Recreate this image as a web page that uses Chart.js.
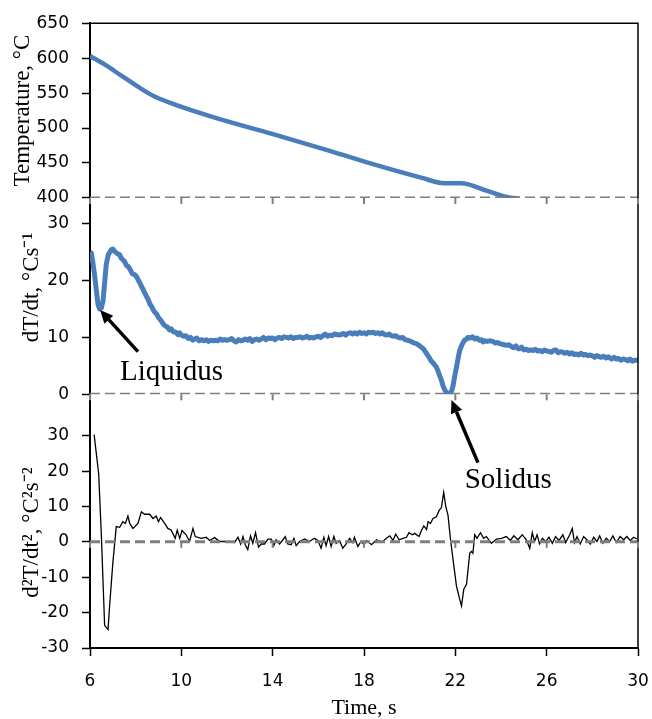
<!DOCTYPE html>
<html>
<head>
<meta charset="utf-8">
<script src="https://cdn.jsdelivr.net/npm/chart.js@4.4.0/dist/chart.umd.min.js"></script>
<style>
  html, body { margin: 0; padding: 0; background: #fff; }
  #wrap { width: 652px; height: 719px; }
</style>
</head>
<body>
<div id="wrap"><canvas id="chart" width="652" height="719"></canvas></div>
<script>
// temperature curve, °C
const tempTime = [6.0, 6.64, 7.37, 8.25, 8.83, 9.85, 11.75, 13.94, 16.13, 18.32, 20.5, 21.52, 22.25, 23.4, 24.3, 24.8];
const tempValue = [603, 591, 575, 556, 545, 532, 512, 492, 471, 449, 429, 421, 421, 410, 401, 399];

// first derivative dT/dt
const rateTime = [
  6.0, 6.06, 6.13, 6.2, 6.27, 6.35, 6.42, 6.5, 6.57, 6.64,
  6.71, 6.8, 6.93, 7.0, 7.08, 7.2, 7.3, 7.37, 7.45, 7.52,
  7.6, 7.66, 7.75, 7.85, 7.96, 8.05, 8.15, 8.25, 8.35, 8.45,
  8.54, 8.62, 8.7, 8.8, 8.9, 9.0, 9.12, 9.22, 9.3, 9.4,
  9.48, 9.56, 9.65, 9.75, 9.85, 9.92, 10.0, 10.1, 10.2, 10.3,
  10.4, 10.5, 10.58, 10.68, 10.78, 10.9, 11.0, 11.1, 11.2, 11.3,
  11.4, 11.5, 11.6, 11.7, 11.8, 11.9, 12.0, 12.1, 12.2, 12.3,
  12.4, 12.5, 12.6, 12.7, 12.8, 12.9, 13.0, 13.1, 13.2, 13.3,
  13.4, 13.5, 13.6, 13.7, 13.8, 13.9, 14.0, 14.1, 14.2, 14.3,
  14.4, 14.5, 14.6, 14.7, 14.8, 14.9, 15.0, 15.1, 15.2, 15.3,
  15.4, 15.5, 15.6, 15.7, 15.8, 15.9, 16.0, 16.1, 16.2, 16.3,
  16.4, 16.5, 16.6, 16.7, 16.8, 16.9, 17.0, 17.1, 17.2, 17.3,
  17.4, 17.5, 17.6, 17.7, 17.8, 17.9, 18.0, 18.1, 18.2, 18.3,
  18.4, 18.5, 18.6, 18.7, 18.8, 18.9, 19.0, 19.1, 19.2, 19.3,
  19.4, 19.5, 19.6, 19.7, 19.8, 19.9, 20.0, 20.1, 20.2, 20.3,
  20.4, 20.5, 20.6, 20.7, 20.8, 20.88, 20.95, 21.05, 21.17, 21.25,
  21.32, 21.39, 21.46, 21.54, 21.61, 21.68, 21.76, 21.83, 21.9, 21.97,
  22.05, 22.12, 22.19, 22.3, 22.4, 22.49, 22.55, 22.65, 22.75, 22.85,
  22.95, 23.05, 23.15, 23.21, 23.3, 23.4, 23.5, 23.65, 23.75, 23.85,
  23.95, 24.05, 24.15, 24.24, 24.35, 24.45, 24.55, 24.65, 24.75, 24.82,
  24.9, 25.0, 25.1, 25.2, 25.3, 25.4, 25.5, 25.6, 25.7, 25.8,
  25.9, 26.0, 26.13, 26.2, 26.3, 26.4, 26.5, 26.6, 26.71, 26.8,
  26.9, 27.0, 27.1, 27.2, 27.3, 27.4, 27.5, 27.6, 27.7, 27.8,
  27.9, 28.03, 28.1, 28.2, 28.3, 28.4, 28.5, 28.6, 28.7, 28.76,
  28.85, 28.95, 29.05, 29.15, 29.25, 29.35, 29.45, 29.55, 29.65, 29.75,
  29.85, 29.95, 30.0
];
const rateValue = [
  25.0, 24.8, 23.0, 21.0, 18.5, 15.8, 15.0, 15.2, 16.4, 19.5,
  22.8, 24.5, 25.4, 25.5, 25.1, 24.7, 24.5, 23.9, 23.6, 23.3,
  22.6, 22.5, 22.0, 21.2, 21.0, 20.6, 19.8, 19.0, 18.2, 17.4,
  16.7, 15.9, 15.4, 14.6, 14.2, 13.5, 12.9, 12.3, 12.0, 11.8,
  11.3, 11.5, 11.0, 10.9, 10.5, 10.8, 10.4, 10.2, 10.3, 9.8,
  10.0, 9.5, 9.7, 9.9, 9.4, 9.6, 9.4, 9.6, 9.3, 9.5,
  9.4, 9.5, 9.4, 9.7, 9.5, 9.6, 9.5, 9.6, 9.8, 9.4,
  9.2, 9.6, 9.4, 9.5, 9.7, 9.5, 9.8, 9.3, 9.6, 9.7,
  9.5, 9.7, 10.0, 9.6, 9.9, 9.8, 9.9, 9.6, 9.9, 10.0,
  9.8, 10.1, 10.0, 9.9, 10.1, 9.8, 10.0, 10.0, 10.1, 9.9,
  10.0, 10.2, 9.9, 10.0, 9.9, 10.1, 10.2, 10.0, 10.3, 10.6,
  10.2, 10.4, 10.3, 10.6, 10.5, 10.4, 10.5, 10.7, 10.4, 10.7,
  10.8, 10.6, 10.8, 10.6, 10.9, 10.7, 10.8, 10.6, 10.9, 10.8,
  10.9, 10.7, 10.8, 10.6, 10.8, 10.5, 10.4, 10.6, 10.3, 10.2,
  10.3, 10.0, 9.9, 10.0, 9.6, 9.5, 9.4, 9.2, 9.0, 8.9,
  8.6, 8.3, 8.0, 7.4, 6.8, 6.3, 5.8, 5.4, 4.8, 4.0,
  3.2, 2.5, 1.5, 0.75, 0.3, 0.2, 0.2, 0.5, 1.5, 3.1,
  4.8, 6.3, 7.7, 8.8, 9.5, 9.7, 10.0, 9.9, 10.1, 9.7,
  9.9, 9.5, 9.6, 9.2, 9.4, 9.3, 9.4, 9.3, 9.0, 9.1,
  8.9, 8.8, 8.7, 8.6, 8.7, 8.4, 8.2, 8.5, 8.0, 8.0,
  8.3, 7.8, 7.9, 7.7, 7.8, 7.7, 7.9, 7.6, 7.7, 7.5,
  7.8, 7.6, 7.5, 7.4, 7.7, 7.8, 7.3, 7.5, 7.4, 7.2,
  7.4, 7.1, 7.3, 7.0, 7.1, 6.9, 7.2, 6.9, 7.0, 6.8,
  6.9, 6.7, 6.5, 6.8, 6.6, 6.5, 6.7, 6.4, 6.6, 6.4,
  6.2, 6.5, 6.2, 6.3, 6.0, 6.2, 6.1, 5.9, 6.2, 5.8,
  6.0, 6.0, 5.9
];

// second derivative d2T/dt2
const accelTime = [
  6.18, 6.28, 6.38, 6.5, 6.64, 6.79, 6.86, 7.0, 7.15, 7.3,
  7.44, 7.55, 7.66, 7.74, 7.88, 8.1, 8.25, 8.39, 8.61, 8.76,
  8.9, 9.0, 9.09, 9.27, 9.41, 9.56, 9.73, 9.82, 9.93, 10.03,
  10.21, 10.36, 10.51, 10.61, 10.87, 11.09, 11.24, 11.46, 11.68, 11.9,
  12.33, 12.48, 12.6, 12.7, 12.8, 12.91, 13.03, 13.13, 13.25, 13.38,
  13.5, 13.64, 13.79, 13.94, 14.05, 14.15, 14.3, 14.45, 14.55, 14.66,
  14.81, 14.93, 15.03, 15.18, 15.4, 15.61, 15.83, 15.98, 16.12, 16.24,
  16.34, 16.45, 16.56, 16.68, 16.78, 16.93, 17.07, 17.22, 17.37, 17.51,
  17.58, 17.73, 17.87, 18.0, 18.11, 18.33, 18.55, 18.77, 18.98, 19.13,
  19.27, 19.39, 19.54, 19.71, 19.86, 19.97, 20.12, 20.22, 20.41, 20.52,
  20.62, 20.74, 20.81, 20.91, 21.02, 21.17, 21.29, 21.39, 21.49, 21.58,
  21.68, 21.79, 21.9, 22.05, 22.19, 22.27, 22.37, 22.49, 22.63, 22.7,
  22.77, 22.85, 22.95, 23.1, 23.24, 23.36, 23.58, 23.8, 24.02, 24.24,
  24.41, 24.56, 24.74, 24.93, 25.11, 25.26, 25.37, 25.47, 25.58, 25.69,
  25.81, 25.96, 26.1, 26.25, 26.39, 26.54, 26.71, 26.83, 27.01, 27.12,
  27.22, 27.33, 27.47, 27.62, 27.76, 27.91, 28.06, 28.2, 28.32, 28.46,
  28.61, 28.76, 28.9, 29.05, 29.22, 29.37, 29.51, 29.66, 29.81, 29.95
];
const accelValue = [
  30.3, 24.8, 19.2, 1.5, -23.6, -24.8, -18, -6, 4.3, 4.1,
  5.7, 5.2, 7.3, 5.2, 3.8, 5.2, 8.5, 7.8, 7.8, 6.6,
  7.3, 5.7, 6.9, 5.2, 3.8, 3.3, 1.0, 3.3, 1.0, 3.2,
  2.0, 0.1, 3.8, 1.5, 1.0, 1.3, 0.4, 1.2, 0.1, 0.1,
  -0.2, 1.3, -0.6, 1.5, -0.8, -2.2, 1.7, -0.4, 2.6, -1.5,
  -0.6, -0.6, 0.8, 0.8, -1.1, 0.6, -0.6, 0.6, 1.5, -0.6,
  -0.8, 1.0, -1.1, 0.1, 0.8, 0.1, 1.0, 0.4, -1.8, 1.3,
  -1.1, 1.5, -1.3, 1.5, -0.4, 0.4, -1.8, -0.6, 1.0, -0.2,
  1.3, -1.3, 0.1, -0.8, 0.4, -0.8, 0.6, -0.2, 1.0, 1.7,
  0.4, 2.2, 0.6, 1.0, 1.3, 2.6, 2.0, 2.4, 1.5, 3.3,
  4.5, 3.5, 5.7, 5.2, 6.6, 7.1, 8.9, 9.7, 14.0, 10.0,
  7.5, 0.6, -5.0, -12.5, -16.2, -18.1, -13.4, -12.0, -3.2, -2.7,
  -3.2, 2.0, 1.0, 2.6, 1.0, 1.5, -0.4, 0.8, 1.0, 1.5,
  0.4, 1.7, 0.6, 2.0, 0.6, -1.8, 2.6, 0.1, 2.0, -0.6,
  1.0, 0.1, 1.3, -0.4, 1.5, 0.4, 2.0, -0.2, 2.0, 3.8,
  -0.2, 1.5, -0.6, 1.5, 0.6, -0.6, 1.3, 0.1, 1.7, -0.4,
  1.0, 0.1, 1.7, -0.2, 1.5, 0.6, 1.5, 0.4, 1.3, 0.8
];

// tick labels of the three panels
const tempTicks = [400, 450, 500, 550, 600, 650];
const rateTicks = [0, 10, 20, 30];
const accelTicks = [-30, -20, -10, 0, 10, 20, 30];
const timeRange = [6, 30];

// dashed base lines, one per panel
const baseLines = [
  { axis: 'yT', level: 400 },
  { axis: 'yD1', level: 0 },
  { axis: 'yD2', level: 0 }
];

// labelled arrows
const notes = [
  { text: 'Liquidus', tip: [6.44, 14.8, 'yD1'], tail: [8.1, 7.5, 'yD1'], at: [7.31, 2.6, 'yD1'] },
  { text: 'Solidus', tip: [21.83, -1.0, 'yD1'], tail: [22.99, 22.4, 'yD2'], at: [22.41, 15.1, 'yD2'] }
];

const serif = "'Liberation Serif', 'Times New Roman', serif";
const sans = "'DejaVu Sans', Verdana, sans-serif";
const blue = '#4A7EBB';
const dashGrey = '#7F7F7F';

function pairs(xs, ys) {
  return xs.map((x, i) => ({ x: x, y: ys[i] }));
}

function drawArrow(ctx, x0, y0, x1, y1) {
  const ang = Math.atan2(y1 - y0, x1 - x0);
  const head = 13, half = 6;
  const bx = x1 - head * Math.cos(ang), by = y1 - head * Math.sin(ang);
  ctx.lineWidth = 3.5;
  ctx.beginPath();
  ctx.moveTo(x0, y0);
  ctx.lineTo(bx, by);
  ctx.stroke();
  ctx.beginPath();
  ctx.moveTo(x1, y1);
  ctx.lineTo(bx + half * Math.sin(ang), by - half * Math.cos(ang));
  ctx.lineTo(bx - half * Math.sin(ang), by + half * Math.cos(ang));
  ctx.closePath();
  ctx.fill();
}

const extras = {
  id: 'extras',
  afterDatasetsDraw(chart) {
    const { ctx, chartArea: a, scales } = chart;
    ctx.save();
    // frame top and right
    ctx.strokeStyle = '#000';
    ctx.lineWidth = 1.5;
    ctx.beginPath();
    ctx.moveTo(a.left, a.top);
    ctx.lineTo(a.right, a.top);
    ctx.lineTo(a.right, a.bottom);
    ctx.stroke();

    // little tick marks under the dashed lines
    ctx.strokeStyle = dashGrey;
    ctx.lineWidth = 2;
    baseLines.forEach(b => {
      const y = scales[b.axis].getPixelForValue(b.level);
      scales.x.ticks.forEach(t => {
        const x = scales.x.getPixelForValue(t.value);
        ctx.beginPath();
        ctx.moveTo(x, y);
        ctx.lineTo(x, y + 6);
        ctx.stroke();
      });
    });

    // arrows and labels
    ctx.strokeStyle = '#000';
    ctx.fillStyle = '#000';
    notes.forEach(n => {
      const px = p => [scales.x.getPixelForValue(p[0]), scales[p[2]].getPixelForValue(p[1])];
      const tip = px(n.tip), tail = px(n.tail), at = px(n.at);
      drawArrow(ctx, tail[0], tail[1], tip[0], tip[1]);
      ctx.font = '29px ' + serif;
      ctx.textAlign = 'left';
      ctx.textBaseline = 'alphabetic';
      ctx.fillText(n.text, at[0], at[1]);
    });
    ctx.restore();
  }
};

function yAxis(weight, min, max, ticks, title, titlePad) {
  return {
    type: 'linear',
    position: 'left',
    stack: 'panels',
    stackWeight: weight,
    min: min,
    max: max,
    afterBuildTicks: s => { s.ticks = ticks.map(v => ({ value: v })); },
    afterFit: s => { s.width = 90; },
    ticks: { autoSkip: false, font: { family: sans, size: 17 }, color: '#000', padding: 13 },
    grid: { drawOnChartArea: false, tickLength: 8, tickColor: '#000', tickWidth: 1.5 },
    border: { color: '#000', width: 2 },
    title: { display: true, text: title, color: '#000', font: { family: serif, size: 23 }, padding: { top: titlePad, bottom: 0 } }
  };
}

const datasets = [
  { data: pairs(tempTime, tempValue), yAxisID: 'yT', borderColor: blue, borderWidth: 4.5, pointRadius: 0, tension: 0.4, cubicInterpolationMode: 'monotone', order: 1 },
  { data: pairs(rateTime, rateValue), yAxisID: 'yD1', borderColor: blue, borderWidth: 5, pointRadius: 0, tension: 0, borderJoinStyle: 'round', order: 1 },
  { data: pairs(accelTime, accelValue), yAxisID: 'yD2', borderColor: '#000', borderWidth: 1.3, pointRadius: 0, tension: 0, order: 1 }
];
baseLines.forEach(b => {
  datasets.push({
    data: timeRange.map(t => ({ x: t, y: b.level })),
    yAxisID: b.axis,
    borderColor: dashGrey,
    borderWidth: 3,
    borderDash: [10, 5],
    pointRadius: 0,
    order: 0
  });
});

new Chart(document.getElementById('chart'), {
  type: 'line',
  data: { datasets: datasets },
  options: {
    responsive: false,
    animation: false,
    layout: { padding: { top: 15, right: 14, bottom: 0, left: 0 } },
    plugins: { legend: { display: false }, tooltip: { enabled: false } },
    scales: {
      x: {
        type: 'linear',
        min: timeRange[0],
        max: timeRange[1],
        afterFit: s => { s.height = 71; s.paddingLeft = 0; s.paddingRight = 10; },
        ticks: { stepSize: 4, autoSkip: false, font: { family: sans, size: 17 }, color: '#000', padding: 15 },
        grid: { drawOnChartArea: false, tickLength: 8, tickColor: '#000', tickWidth: 1.5 },
        border: { color: '#000', width: 2 },
        title: { display: true, text: 'Time, s', color: '#000', font: { family: serif, size: 22, lineHeight: 1 }, padding: { top: 0, bottom: 0 } }
      },
      yD2: yAxis(257, -30, 41.7, accelTicks, 'd²T/dt², °C²s⁻²    ', 18),
      yD1: yAxis(199, 0, 34.5, rateTicks, '   dT/dt, °Cs⁻¹', 18),
      yT: yAxis(177, 400, 650, tempTicks, 'Temperature, °C', 9)
    }
  },
  plugins: [extras]
});
</script>
</body>
</html>
